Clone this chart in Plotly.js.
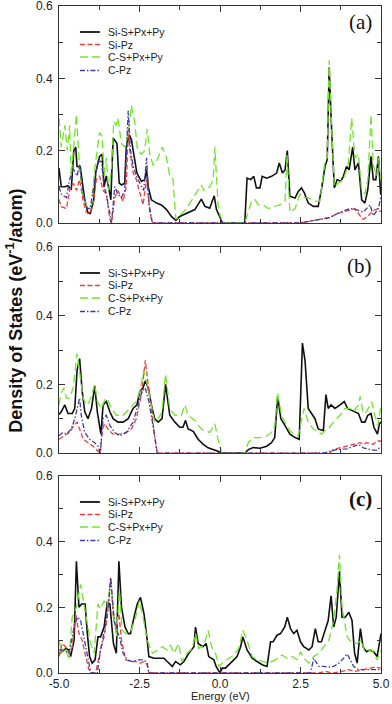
<!DOCTYPE html>
<html lang="en">
<head>
    <meta charset="UTF-8">
    <title>Projected DOS</title>
    <script src="https://cdn.plot.ly/plotly-3.0.1.min.js" charset="utf-8"></script>
    <style>
        body { margin: 0; background: #fff; }
        #dos { width: 392px; height: 704px; }
    </style>
</head>
<body>

<div id="dos"></div>

<script>
// series names and panel tags
const seriesNames = ['Si-S+Px+Py', 'Si-Pz', 'C-S+Px+Py', 'C-Pz'];
const panelTags = ['(a)', '(b)', '(c)'];
const xTickVals = [-5, -2.5, 0, 2.5, 5];
const xTickText = ['-5.0', '-2.5', '0.0', '2.5', '5.0'];

// ---- panel (a) ----
const aSiSpE = [-5.00,-4.93,-4.82,-4.72,-4.62,-4.54,-4.48,-4.44,-4.34,-4.28,
    -4.20,-4.10,-4.03,-3.92,-3.86,-3.74,-3.66,-3.60,-3.53,-3.42,
    -3.39,-3.32,-3.20,-3.13,-3.06,-2.96,-2.91,-2.82,-2.75,-2.65,
    -2.58,-2.44,-2.34,-2.28,-2.23,-2.13,-1.97,-1.82,-1.66,-1.51,
    -1.37,-1.25,-1.04,-0.78,-0.58,-0.47,-0.32,-0.18,-0.11,0.00,
    0.08,0.77,0.84,0.95,1.05,1.13,1.24,1.31,1.45,1.60,
    1.76,1.84,1.94,2.02,2.09,2.17,2.33,2.43,2.53,2.62,
    2.74,2.90,3.05,3.16,3.26,3.33,3.39,3.47,3.55,3.64,
    3.75,3.83,3.93,4.01,4.12,4.19,4.30,4.40,4.50,4.59,
    4.69,4.76,4.84,4.92,4.99];
const aSiSp = [0.152,0.10,0.10,0.103,0.092,0.20,0.21,0.156,0.156,0.12,
    0.064,0.028,0.026,0.064,0.14,0.184,0.19,0.10,0.13,0.08,
    0.064,0.235,0.22,0.11,0.105,0.11,0.21,0.244,0.23,0.175,
    0.138,0.115,0.12,0.147,0.10,0.064,0.055,0.05,0.037,0.018,
    0.007,0.018,0.026,0.037,0.066,0.046,0.041,0.075,0.037,0.014,
    0,0,0.124,0.12,0.129,0.097,0.097,0.129,0.124,0.129,
    0.138,0.166,0.138,0.147,0.20,0.074,0.069,0.087,0.097,0.083,
    0.055,0.046,0.046,0.097,0.156,0.175,0.43,0.25,0.097,0.12,
    0.115,0.129,0.156,0.147,0.21,0.147,0.166,0.064,0.055,0.092,
    0.184,0.12,0.12,0.184,0.078];
const aSiPzE = [-5.00,-4.93,-4.77,-4.67,-4.56,-4.46,-4.36,-4.25,-4.15,-4.05,
    -3.94,-3.84,-3.74,-3.63,-3.53,-3.42,-3.37,-3.27,-3.17,-3.01,
    -2.91,-2.85,-2.80,-2.70,-2.60,-2.49,-2.39,-2.28,-2.18,-2.10,
    2.48,2.79,3.10,3.41,3.62,3.83,4.04,4.19,4.35,4.45,
    4.61,4.76,4.92,4.99];
const aSiPz = [0.065,0.045,0.04,0.09,0.11,0.09,0.12,0.06,0.03,0.025,
    0.05,0.12,0.13,0.09,0.08,0.01,0,0.07,0.09,0.06,
    0.10,0.26,0.20,0.14,0.12,0.08,0.05,0.12,0.03,0,
    0,0.005,0.01,0.015,0.025,0.03,0.035,0.04,0.02,0.01,
    0.02,0.035,0.04,0.03];
const aCSpE = [-5.00,-4.93,-4.82,-4.74,-4.67,-4.62,-4.46,-4.36,-4.25,-4.10,
    -3.99,-3.89,-3.74,-3.66,-3.60,-3.53,-3.46,-3.37,-3.30,-3.22,
    -3.17,-3.06,-2.96,-2.85,-2.75,-2.65,-2.56,-2.44,-2.34,-2.26,
    -2.18,-2.08,-1.97,-1.87,-1.79,-1.66,-1.56,-1.46,-1.37,-1.25,
    -1.04,-0.83,-0.58,-0.50,-0.32,-0.21,-0.16,-0.06,0.05,0.77,
    0.84,0.98,1.08,1.19,1.34,1.50,1.65,1.86,2.02,2.08,
    2.17,2.33,2.48,2.59,2.74,2.95,3.10,3.26,3.33,3.39,
    3.47,3.55,3.67,3.83,3.98,4.09,4.19,4.30,4.40,4.50,
    4.59,4.69,4.76,4.87,4.92,4.99];
const aCSp = [0.29,0.21,0.27,0.20,0.27,0.13,0.30,0.15,0.07,0.04,
    0.05,0.15,0.25,0.24,0.13,0.18,0.09,0.15,0.28,0.27,
    0.29,0.22,0.21,0.25,0.325,0.28,0.20,0.19,0.20,0.26,
    0.19,0.16,0.17,0.19,0.21,0.18,0.13,0.12,0.01,0.02,
    0.04,0.07,0.105,0.09,0.10,0.12,0.21,0.05,0,0,
    0.02,0.06,0.065,0.05,0.05,0.04,0.045,0.05,0.06,0.19,
    0.03,0.04,0.08,0.07,0.07,0.06,0.06,0.17,0.18,0.45,
    0.26,0.10,0.11,0.12,0.16,0.29,0.18,0.19,0.09,0.08,
    0.12,0.30,0.16,0.13,0.18,0.12];
const aCPzE = [-5.00,-4.93,-4.77,-4.67,-4.56,-4.44,-4.36,-4.25,-4.13,-4.03,
    -3.92,-3.79,-3.68,-3.60,-3.53,-3.42,-3.37,-3.27,-3.17,-3.06,
    -2.96,-2.85,-2.78,-2.70,-2.60,-2.49,-2.37,-2.28,-2.20,-2.10,
    2.48,2.79,3.10,3.41,3.73,4.04,4.30,4.45,4.66,4.76,
    4.92,4.99];
const aCPz = [0.10,0.08,0.07,0.12,0.15,0.13,0.16,0.08,0.04,0.04,
    0.10,0.17,0.17,0.10,0.08,0.03,0,0.10,0.08,0.07,
    0.09,0.31,0.20,0.16,0.13,0.11,0.09,0.18,0.05,0,
    0,0.005,0.01,0.015,0.03,0.04,0.035,0.03,0.05,0.02,
    0.04,0.07];

// ---- panel (b) ----
const bSiSpE = [-5.00,-4.93,-4.82,-4.72,-4.59,-4.51,-4.44,-4.36,-4.28,-4.20,
    -4.10,-3.99,-3.89,-3.81,-3.70,-3.63,-3.53,-3.42,-3.32,-3.17,
    -3.01,-2.85,-2.70,-2.58,-2.49,-2.39,-2.32,-2.23,-2.13,-2.03,
    -1.92,-1.80,-1.69,-1.56,-1.40,-1.25,-1.15,-1.07,-0.99,-0.83,
    -0.68,-0.52,-0.37,-0.21,-0.06,0.02,0.77,0.88,1.03,1.24,
    1.45,1.60,1.70,1.79,1.89,2.02,2.17,2.33,2.46,2.56,
    2.64,2.74,2.84,2.95,3.05,3.21,3.29,3.36,3.45,3.57,
    3.73,3.86,3.96,4.09,4.19,4.30,4.40,4.50,4.59,4.69,
    4.78,4.89,4.95,5.00];
const bSiSp = [0.112,0.12,0.14,0.115,0.115,0.13,0.24,0.275,0.18,0.12,
    0.10,0.13,0.195,0.12,0.055,0.14,0.15,0.12,0.10,0.09,
    0.09,0.10,0.13,0.14,0.18,0.19,0.21,0.19,0.14,0.10,
    0.09,0.10,0.20,0.11,0.09,0.075,0.075,0.095,0.07,0.063,
    0.04,0.025,0.015,0.01,0.005,0,0,0.01,0.016,0.014,
    0.02,0.03,0.045,0.165,0.10,0.08,0.055,0.045,0.04,0.32,
    0.27,0.13,0.115,0.10,0.07,0.065,0.17,0.13,0.14,0.13,
    0.14,0.15,0.13,0.125,0.12,0.115,0.09,0.09,0.11,0.115,
    0.075,0.055,0.085,0.09];
const bSiPzE = [-5.00,-4.82,-4.67,-4.54,-4.44,-4.36,-4.25,-4.10,-3.94,-3.79,
    -3.72,-3.65,-3.58,-3.48,-3.32,-3.11,-2.91,-2.75,-2.60,-2.44,
    -2.32,-2.23,-2.13,-2.03,-1.95,3.41,3.52,3.73,3.93,4.19,
    4.35,4.45,4.55,4.76,4.87,5.00];
const bSiPz = [0.04,0.05,0.06,0.08,0.09,0.07,0.04,0.03,0.02,0.005,
    0,0.07,0.085,0.07,0.055,0.055,0.06,0.07,0.10,0.17,
    0.27,0.20,0.12,0.05,0,0,0.01,0.015,0.02,0.025,
    0.03,0.025,0.03,0.025,0.035,0.035];
const bCSpE = [-5.00,-4.93,-4.85,-4.77,-4.67,-4.56,-4.44,-4.36,-4.25,-4.15,
    -4.05,-3.89,-3.81,-3.68,-3.58,-3.51,-3.37,-3.22,-3.01,-2.80,
    -2.60,-2.49,-2.37,-2.26,-2.13,-2.03,-1.92,-1.80,-1.69,-1.56,
    -1.40,-1.20,-1.09,-0.99,-0.78,-0.58,-0.32,-0.16,-0.06,0.05,
    0.77,0.88,1.03,1.24,1.45,1.60,1.70,1.79,1.91,2.07,
    2.22,2.43,2.61,2.74,2.90,3.05,3.16,3.26,3.36,3.52,
    3.73,3.88,4.04,4.14,4.30,4.35,4.45,4.55,4.66,4.71,
    4.81,4.90,5.00];
const bCSp = [0.14,0.175,0.19,0.16,0.16,0.19,0.29,0.23,0.16,0.14,
    0.15,0.20,0.15,0.13,0.155,0.16,0.13,0.11,0.11,0.13,
    0.15,0.18,0.24,0.20,0.14,0.09,0.10,0.12,0.23,0.13,
    0.11,0.11,0.14,0.11,0.095,0.07,0.06,0.085,0.04,0,
    0,0.03,0.045,0.045,0.05,0.06,0.08,0.175,0.11,0.08,
    0.06,0.05,0.13,0.09,0.07,0.06,0.055,0.065,0.07,0.09,
    0.11,0.13,0.13,0.12,0.14,0.165,0.115,0.12,0.14,0.15,
    0.11,0.08,0.14];
const bCPzE = [-5.00,-4.88,-4.77,-4.62,-4.51,-4.41,-4.36,-4.31,-4.20,-4.05,
    -3.89,-3.79,-3.72,-3.63,-3.53,-3.42,-3.27,-3.11,-2.91,-2.70,
    -2.54,-2.42,-2.32,-2.21,-2.08,-1.95,3.21,3.41,3.62,3.93,
    4.30,4.45,4.66,4.87,5.00];
const bCPz = [0.05,0.06,0.055,0.07,0.10,0.135,0.16,0.11,0.06,0.04,
    0.03,0.02,0,0.10,0.11,0.08,0.06,0.05,0.06,0.09,
    0.14,0.18,0.19,0.15,0.08,0,0,0.005,0.01,0.012,
    0.025,0.015,0.01,0.008,0.02];

// ---- panel (c) ----
const cSiSpE = [-5.00,-4.90,-4.79,-4.69,-4.64,-4.53,-4.46,-4.38,-4.30,-4.19,
    -4.12,-4.05,-3.97,-3.88,-3.79,-3.71,-3.60,-3.50,-3.42,-3.31,
    -3.22,-3.14,-3.06,-2.95,-2.85,-2.78,-2.67,-2.57,-2.47,-2.36,
    -2.26,-2.21,-2.05,-1.90,-1.74,-1.64,-1.48,-1.38,-1.23,-1.12,
    -0.97,-0.81,-0.76,-0.68,-0.53,-0.43,-0.35,-0.19,-0.12,0.00,
    0.07,0.17,0.27,0.38,0.53,0.64,0.71,0.84,1.00,1.15,
    1.31,1.46,1.57,1.65,1.77,1.88,2.01,2.09,2.19,2.29,
    2.39,2.50,2.60,2.76,2.86,2.96,3.05,3.15,3.27,3.36,
    3.45,3.53,3.61,3.71,3.79,3.89,4.00,4.10,4.18,4.26,
    4.36,4.44,4.55,4.65,4.77,4.88,5.00];
const cSiSp = [0.06,0.065,0.075,0.07,0.05,0.10,0.34,0.20,0.21,0.21,
    0.12,0.05,0.03,0.04,0.11,0.11,0.14,0.215,0.21,0.09,
    0.06,0.34,0.20,0.14,0.12,0.12,0.17,0.21,0.23,0.18,
    0.10,0.05,0.045,0.045,0.045,0.035,0.02,0.035,0.025,0.035,
    0.06,0.08,0.14,0.09,0.08,0.09,0.05,0.04,0.02,0,
    0.015,0.015,0.025,0.035,0.05,0.08,0.11,0.07,0.045,0.035,
    0.025,0.02,0.095,0.095,0.115,0.12,0.14,0.17,0.135,0.12,
    0.13,0.095,0.08,0.07,0.08,0.135,0.095,0.095,0.13,0.16,
    0.235,0.14,0.17,0.31,0.17,0.17,0.185,0.16,0.06,0.03,
    0.135,0.08,0.065,0.07,0.065,0.05,0.12];
const cSiPzE = [-5.00,-4.90,-4.79,-4.69,-4.59,-4.48,-4.38,-4.28,-4.17,-4.07,
    -3.99,-3.86,-3.76,-3.60,-3.50,-3.40,-3.31,-3.24,-3.14,-3.06,
    -2.93,-2.78,-2.62,-2.47,-2.36,-2.26,-2.21,3.07,3.27,3.48,
    3.79,4.00,4.20,4.41,4.62,4.82,5.00];
const cSiPz = [0.05,0.09,0.08,0.06,0.08,0.18,0.12,0.10,0.05,0.01,
    0,0,0.05,0.11,0.17,0.29,0.17,0.14,0.18,0.10,
    0.04,0.035,0.035,0.03,0.035,0.025,0,0,0.005,0,
    0.005,0.01,0.005,0.01,0.015,0.018,0.015];
const cCSpE = [-5.00,-4.92,-4.81,-4.69,-4.59,-4.46,-4.33,-4.22,-4.12,-4.02,
    -3.91,-3.79,-3.71,-3.60,-3.50,-3.40,-3.31,-3.22,-3.12,-3.04,
    -2.93,-2.78,-2.62,-2.50,-2.39,-2.26,-2.10,-1.95,-1.79,-1.64,
    -1.54,-1.43,-1.28,-1.19,-1.02,-0.86,-0.76,-0.66,-0.50,-0.37,
    -0.26,-0.14,-0.03,0.07,0.22,0.43,0.58,0.71,0.84,1.00,
    1.15,1.31,1.51,1.72,1.93,2.08,2.24,2.39,2.50,2.60,
    2.76,2.91,3.07,3.22,3.38,3.53,3.63,3.71,3.79,3.95,
    4.10,4.26,4.39,4.49,4.60,4.72,4.88,5.00];
const cCSp = [0.10,0.06,0.08,0.04,0.17,0.20,0.27,0.20,0.15,0.09,
    0.06,0.21,0.195,0.22,0.20,0.28,0.20,0.11,0.25,0.13,
    0.12,0.125,0.17,0.22,0.17,0.10,0.06,0.07,0.08,0.07,
    0.085,0.06,0.09,0.035,0.06,0.075,0.12,0.075,0.085,0.13,
    0.08,0.06,0.02,0.03,0.04,0.055,0.075,0.13,0.10,0.05,
    0.04,0.035,0.03,0.04,0.055,0.045,0.05,0.04,0.065,0.045,
    0.03,0.05,0.06,0.08,0.10,0.16,0.25,0.36,0.20,0.11,
    0.09,0.09,0.10,0.065,0.07,0.07,0.04,0.07];
const cCPzE = [-5.00,-4.90,-4.79,-4.69,-4.53,-4.43,-4.33,-4.19,-4.09,-4.01,
    -3.81,-3.71,-3.55,-3.45,-3.39,-3.29,-3.21,-3.12,-3.01,-2.88,
    -2.72,-2.52,-2.36,-2.26,-2.21,2.81,2.91,3.07,3.22,3.38,
    3.53,3.69,3.84,3.95,4.05,4.15,4.31,4.51,4.72,5.00];
const cCPz = [0.07,0.07,0.065,0.06,0.14,0.17,0.16,0.09,0.03,0,
    0,0.07,0.15,0.22,0.29,0.16,0.13,0.11,0.06,0.04,
    0.035,0.04,0.04,0.03,0,0,0.045,0.02,0.02,0.018,
    0.02,0.03,0.045,0.058,0.04,0.02,0.01,0.01,0.01,0.01];

const panels = [
    [[aSiSpE, aSiSp], [aSiPzE, aSiPz], [aCSpE, aCSp], [aCPzE, aCPz]],
    [[bSiSpE, bSiSp], [bSiPzE, bSiPz], [bCSpE, bCSp], [bCPzE, bCPz]],
    [[cSiSpE, cSiSp], [cSiPzE, cSiPz], [cCSpE, cCSp], [cCPzE, cCPz]]
];

// line styles for the four projections
const lineColors = ['#111111', '#f03c3c', '#70e62a', '#3c3ca0'];
const lineDash = ['solid', '5px,2.5px', '8px,4px', '5px,2px,1.5px,2px'];
const lineWidth = [1.6, 1.3, 1.3, 1.3];

const W = 392, H = 704;
const M = { l: 59, r: 11, t: 6, b: 31 };
const plotH = H - M.t - M.b;
// panel domains (top, middle, bottom)
const domains = [[0.6747, 1], [0.3298, 0.6387], [0, 0.2954]];
const suffix = ['', '2', '3'];

const data = [];
panels.forEach((series, p) => {
    series.forEach(([e, d], i) => {
        data.push({
            x: e, y: d,
            xaxis: 'x' + suffix[p], yaxis: 'y' + suffix[p],
            mode: 'lines', name: seriesNames[i],
            line: { color: lineColors[i], dash: lineDash[i], width: lineWidth[i] },
            hoverinfo: 'skip'
        });
    });
});

const frameColor = '#333';
function xAxis(p) {
    return {
        domain: [0, 1], anchor: 'y' + suffix[p], range: [-5, 5],
        showline: true, linecolor: frameColor, linewidth: 1, mirror: 'ticks',
        ticks: 'inside', ticklen: 6, tickcolor: frameColor,
        tickvals: xTickVals, ticktext: xTickText,
        showticklabels: p === 2,
        tickfont: { size: 12, color: '#222' },
        minor: { dtick: 1.25, tick0: -5, ticks: 'inside', ticklen: 4, tickcolor: frameColor, showgrid: false },
        showgrid: false, zeroline: false
    };
}
function yAxis(p) {
    return {
        domain: domains[p], anchor: 'x' + suffix[p], range: [0, 0.6],
        showline: true, linecolor: frameColor, linewidth: 1, mirror: 'ticks',
        ticks: 'inside', ticklen: 6, tickcolor: frameColor,
        tick0: 0, dtick: 0.2, tickformat: '.1f',
        tickfont: { size: 12, color: '#222' }, ticklabelstandoff: 3,
        ticklabeloverflow: 'allow',
        minor: { dtick: 0.1, ticks: 'inside', ticklen: 4, tickcolor: frameColor, showgrid: false },
        showgrid: false, zeroline: false
    };
}

const shapes = [];
const annotations = [];
// legend rows, pixels below each panel's top
const legendRows = [26, 38.5, 51, 64.5];
const tagOffsets = [16, 19.5, 23.5];
domains.forEach((dom, p) => {
    const hPx = (dom[1] - dom[0]) * plotH;
    const yref = 'y' + suffix[p] + ' domain';
    legendRows.forEach((off, i) => {
        const yy = 1 - off / hPx;
        shapes.push({
            type: 'line', xref: 'paper', yref: yref,
            x0: 0.065, x1: 0.127, y0: yy, y1: yy,
            line: { color: lineColors[i], dash: lineDash[i], width: lineWidth[i] + 0.2 }
        });
        annotations.push({
            xref: 'paper', yref: yref, x: 0.146, y: yy,
            xanchor: 'left', yanchor: 'middle', showarrow: false,
            text: seriesNames[i], font: { size: 10.5, color: '#222' }
        });
    });
    annotations.push({
        xref: 'paper', yref: yref, x: 0.978, y: 1 - tagOffsets[p] / hPx,
        xanchor: 'right', yanchor: 'middle', showarrow: false,
        text: panelTags[p],
        font: { family: 'Liberation Serif, Times New Roman, serif', size: 21, color: '#111',
                weight: p === 2 ? 'bold' : 'normal' }
    });
});

annotations.push({
    xref: 'paper', yref: 'paper', x: -0.137, y: 0.543,
    xanchor: 'center', yanchor: 'middle', showarrow: false, textangle: -90,
    text: 'Density of States (eV<sup>-1</sup>/atom)',
    font: { size: 18, color: '#111', weight: 'bold' }
});
annotations.push({
    xref: 'paper', yref: 'paper', x: 0.5, y: -0.0345,
    xanchor: 'center', yanchor: 'middle', showarrow: false,
    text: 'Energy (eV)', font: { size: 11, color: '#222' }
});

const layout = {
    width: W, height: H, margin: M,
    paper_bgcolor: '#fff', plot_bgcolor: '#fff',
    font: { family: 'Liberation Sans, Arial, sans-serif', color: '#222' },
    showlegend: false,
    xaxis: xAxis(0), xaxis2: xAxis(1), xaxis3: xAxis(2),
    yaxis: yAxis(0), yaxis2: yAxis(1), yaxis3: yAxis(2),
    shapes: shapes, annotations: annotations
};

Plotly.newPlot('dos', data, layout, { staticPlot: true, displayModeBar: false });
</script>

</body>
</html>
